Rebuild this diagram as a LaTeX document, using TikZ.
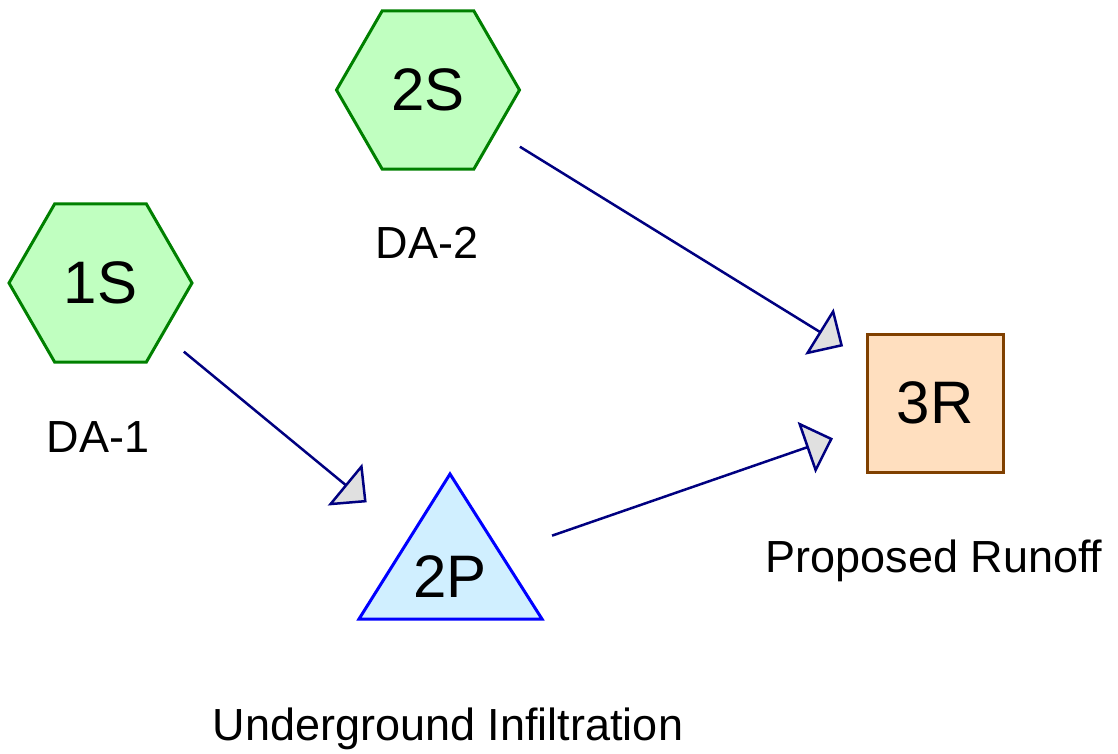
\documentclass[tikz,border=0pt]{standalone}
\usepackage{fontspec}
\setmainfont{Liberation Sans}
\usetikzlibrary{shapes.geometric,arrows.meta}
\definecolor{hexfill}{HTML}{C0FFC0}
\definecolor{hexdraw}{HTML}{008000}
\definecolor{boxfill}{HTML}{FFDFBF}
\definecolor{boxdraw}{HTML}{804000}
\definecolor{trifill}{HTML}{D0EFFF}
\definecolor{tridraw}{HTML}{0000FF}
\definecolor{linkcol}{HTML}{000080}
\definecolor{tipfill}{HTML}{E0E0E0}
\tikzset{
  nodetext/.style={font=\fontsize{60}{70}\selectfont},
  labeltext/.style={font=\fontsize{45}{52}\selectfont, anchor=base, inner sep=0},
  hexnode/.style={regular polygon, regular polygon sides=6, minimum size=183pt,
    inner sep=0, fill=hexfill, draw=hexdraw, line width=3pt, nodetext},
  boxnode/.style={rectangle, minimum width=136pt, minimum height=138pt,
    inner sep=0, fill=boxfill, draw=boxdraw, line width=3pt, nodetext},
  tripath/.style={fill=trifill, draw=tridraw, line width=3pt, line join=miter},
  link/.style={draw=linkcol, line width=2.5pt, shorten >=108pt, shorten <=108pt,
    -{Triangle[length=28pt, width=54pt, fill=tipfill, line join=miter]}},
}
\begin{document}
\begin{tikzpicture}[x=1pt, y=-1pt]
\useasboundingbox (0,0) rectangle (1118,754);
% nodes
\node[hexnode] (s2) at (428,90) {2S};
\node[hexnode] (s1) at (100.5,283) {1S};
\node[boxnode] (r3) at (935,403) {3R};
\draw[tripath] (359,619) -- (450,474) -- (542,619) -- cycle;
\coordinate (p2c) at (450,571);
\node[nodetext, inner sep=0] (p2) at (450,577) {2P};
% labels
\node[labeltext] (l2) at (427,258) {DA-2};
\node[labeltext] (l1) at (98,452) {DA-1};
\node[labeltext] (lr) at (934,572) {Proposed Runoff};
\node[labeltext] (lp) at (448,740) {Underground Infiltration};
% connectors
\draw[link] (s2.center) -- (r3.center);
\draw[link] (s1.center) -- (p2c);
\draw[link] (p2c) -- (r3.center);
\end{tikzpicture}
\end{document}
